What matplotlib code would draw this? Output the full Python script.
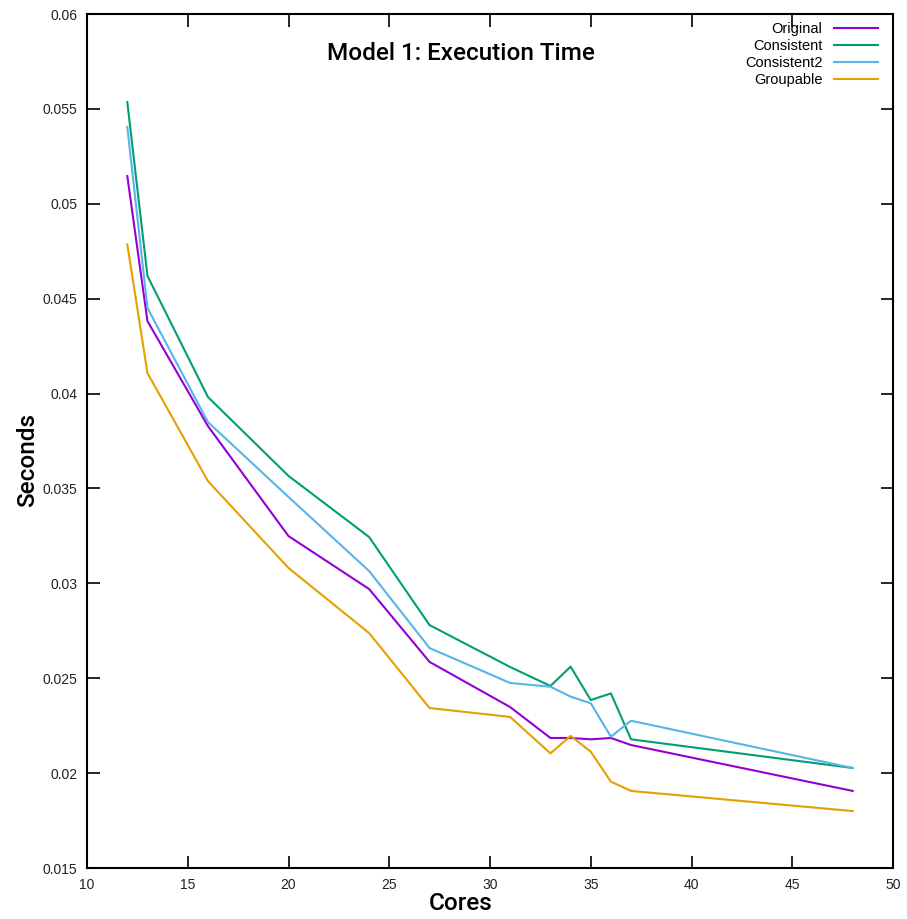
import numpy as np, matplotlib; matplotlib.use('Agg')
import matplotlib.pyplot as plt

cores = [12, 13, 16, 20, 24, 27, 31, 33, 34, 35, 36, 37, 48]
original    = [0.05146, 0.04382, 0.03829, 0.03249, 0.0297, 0.02586, 0.02348, 0.02185, 0.02185, 0.02178, 0.02185, 0.02148, 0.01906]
consistent  = [0.05536, 0.0462, 0.03982, 0.03566, 0.03244, 0.0278, 0.02559, 0.02459, 0.02561, 0.02385, 0.0242, 0.02178, 0.02027]
consistent2 = [0.05406, 0.04451, 0.0385, 0.03455, 0.03065, 0.02659, 0.02475, 0.02455, 0.02403, 0.02368, 0.02192, 0.02276, 0.02027]
groupable   = [0.04786, 0.04108, 0.03539, 0.03081, 0.02738, 0.02343, 0.02296, 0.02104, 0.02196, 0.02113, 0.01955, 0.01906, 0.018]
names  = ['Original', 'Consistent', 'Consistent2', 'Groupable']
colors = ['#9400d3', '#009e73', '#56b4e9', '#e69f00']

plt.rcParams['font.family'] = ['Liberation Sans', 'DejaVu Sans']
W, H = 907, 919
fig = plt.figure(figsize=(W/100, H/100), dpi=100)
ax = fig.add_axes([87/W, 1-868/H, (893-87)/W, (868-14)/H])
for ys, n, c in zip([original, consistent, consistent2, groupable], names, colors):
    ax.plot(cores, ys, '-', color=c, lw=1.5, label=n)

ax.set_xlim(10, 50); ax.set_ylim(0.015, 0.06)
ax.set_xticks(np.arange(10, 51, 5))
ax.set_yticks([0.015, 0.02, 0.025, 0.03, 0.035, 0.04, 0.045, 0.05, 0.055, 0.06])
ax.set_yticklabels(['0.015', '0.02', '0.025', '0.03', '0.035', '0.04', '0.045', '0.05', '0.055', '0.06'])
ax.tick_params(direction='in', length=9, width=1.2, top=True, right=True, labelsize=10, pad=7, labelcolor='#222222')
for s in ax.spines.values(): s.set_linewidth(1.5)

leg = ax.legend(loc='upper right', bbox_to_anchor=(0.991, 1.0), frameon=False, markerfirst=False,
                fontsize=10.5, handlelength=3.0, labelspacing=0.2, borderaxespad=0.15, handletextpad=0.8)
for t in leg.get_texts(): t.set_ha('right')

fig.text(461/W, 1-54/H, 'Model 1: Execution Time', ha='center', va='center', fontsize=17.5, family='Roboto', fontweight='medium')
fig.text(28/W, 1-460/H, 'Seconds', rotation=90, ha='center', va='center', fontsize=17.5, family='Roboto', fontweight='medium')
fig.text(461/W, 1-903/H, 'Cores', ha='center', va='center', fontsize=17.5, family='Roboto', fontweight='medium')
fig.savefig('out.png', dpi=100)
